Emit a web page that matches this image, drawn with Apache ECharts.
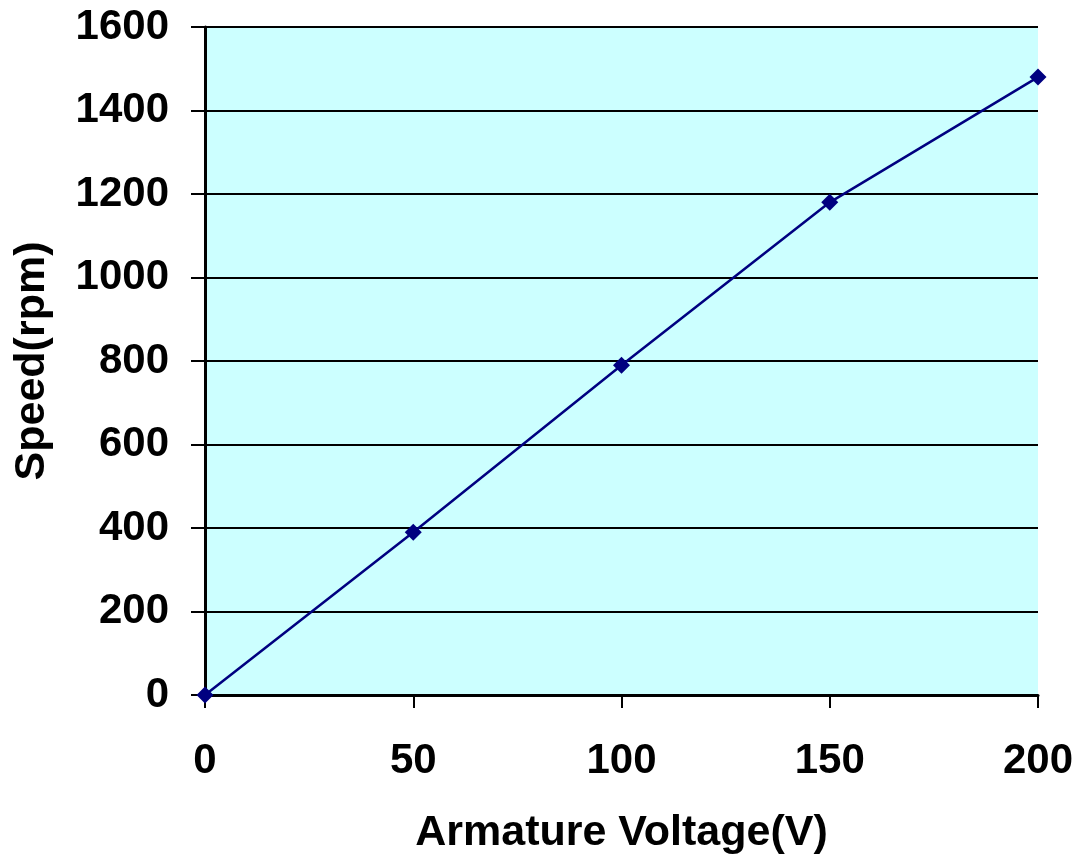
<!DOCTYPE html>
<html><head><meta charset="utf-8">
<script src="https://cdn.jsdelivr.net/npm/echarts@6/dist/echarts.min.js"></script>
<style>html,body{margin:0;padding:0;background:#fff}#c{width:1078px;height:860px}</style>
</head><body><div id="c"></div>
<script>
const voltage = [0, 50, 100, 150, 200];
const speed = [0, 390, 790, 1180, 1480];
const xTitle = 'Armature Voltage(V)';
const yTitle = 'Speed(rpm)';
const font = 'Liberation Sans, Arial, sans-serif';
const chart = echarts.init(document.getElementById('c'));
chart.setOption({
  animation: false,
  backgroundColor: '#fff',
  grid: { left: 205, right: 40, top: 27, bottom: 165, show: true, backgroundColor: '#ccffff', borderWidth: 0, outerBoundsMode: 'none', containLabel: false },
  xAxis: {
    type: 'value', min: 0, max: 200, interval: 50,
    name: xTitle, nameLocation: 'middle', nameGap: 117,
    nameTextStyle: { fontFamily: font, fontWeight: 'bold', fontSize: 43, color: '#000' },
    axisLine: { show: true, lineStyle: { color: '#000', width: 3 } },
    axisTick: { show: true, inside: false, length: 13, lineStyle: { color: '#000', width: 2 } },
    axisLabel: { fontFamily: font, fontWeight: 'bold', fontSize: 42, color: '#000', margin: 45, formatter: v => String(v) },
    splitLine: { show: false }
  },
  yAxis: {
    type: 'value', min: 0, max: 1600, interval: 200,
    name: yTitle, nameLocation: 'middle', nameGap: 151, nameRotate: 90,
    nameTextStyle: { fontFamily: font, fontWeight: 'bold', fontSize: 43, color: '#000' },
    axisLine: { show: true, lineStyle: { color: '#000', width: 3 } },
    axisTick: { show: true, inside: false, length: 14, lineStyle: { color: '#000', width: 2 } },
    axisLabel: { fontFamily: font, fontWeight: 'bold', fontSize: 42, color: '#000', margin: 36, formatter: v => String(v) },
    splitLine: { show: true, lineStyle: { color: '#000', width: 2 } }
  },
  series: [{
    type: 'line',
    data: voltage.map((v, i) => [v, speed[i]]),
    symbol: 'diamond', symbolSize: 17,
    itemStyle: { color: '#000080' },
    lineStyle: { color: '#000080', width: 2.5 },
    clip: false
  }]
});
</script></body></html>
